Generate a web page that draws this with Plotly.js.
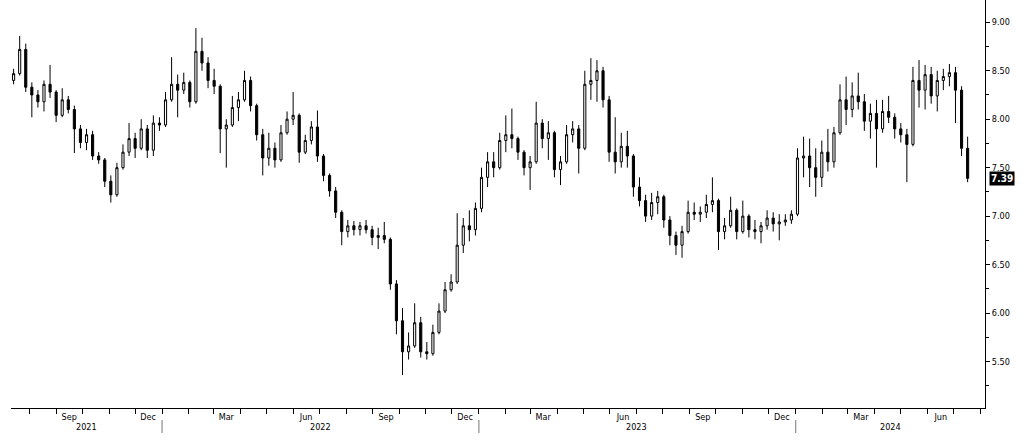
<!DOCTYPE html>
<html>
<head>
<meta charset="utf-8">
<script src="https://cdn.plot.ly/plotly-3.0.1.min.js"></script>
<style>
html,body{margin:0;padding:0;background:#fff;}
#chart{width:1026px;height:440px;}
</style>
</head>
<body>
<div id="chart"></div>
<script>
// Weekly candles (week midpoint dates)
const firstWeek = '2021-07-14';
const opens = [8.40,8.47,8.72,8.33,8.25,8.18,8.36,8.28,8.04,8.20,8.10,7.90,7.76,7.84,7.62,7.58,7.36,7.22,7.50,7.66,
7.80,7.70,7.90,7.68,7.96,7.94,8.20,8.36,8.30,8.38,8.18,8.70,8.58,8.40,8.34,7.90,7.94,8.12,8.20,8.40,
8.14,7.84,7.60,7.70,7.58,7.86,8.00,8.04,7.66,7.78,7.92,7.62,7.42,7.26,7.04,6.84,6.90,6.86,6.90,6.86,
6.78,6.80,6.76,6.30,5.92,5.60,5.66,5.90,5.60,5.58,5.80,6.02,6.24,6.32,6.70,6.90,6.86,7.08,7.40,7.56,
7.50,7.78,7.84,7.80,7.66,7.50,7.56,7.96,7.80,7.86,7.48,7.56,7.84,7.90,7.70,8.36,8.40,8.50,8.20,7.66,
7.56,7.72,7.62,7.30,7.16,7.00,7.14,7.20,6.96,6.80,6.70,6.84,7.04,7.02,7.04,7.12,7.16,6.84,6.90,7.06,
6.84,7.00,6.86,6.84,6.90,6.98,6.92,6.94,6.96,7.02,7.60,7.62,7.50,7.40,7.66,7.56,7.86,8.20,8.10,8.24,
8.18,7.98,8.06,7.90,8.08,8.02,7.90,7.84,7.74,8.40,8.30,8.46,8.24,8.40,8.44,8.48,8.30,7.70];
const highs = [8.52,8.86,8.78,8.38,8.30,8.40,8.56,8.30,8.32,8.24,8.14,7.94,7.90,7.88,7.66,7.60,7.42,7.55,7.74,7.96,
7.86,8.00,7.94,8.04,8.02,8.28,8.64,8.46,8.48,8.40,8.94,8.84,8.64,8.52,8.36,8.00,8.24,8.28,8.50,8.44,
8.16,7.90,7.86,7.76,7.94,8.08,8.28,8.06,7.84,7.98,8.09,7.64,7.44,7.30,7.06,6.96,6.95,6.94,6.96,6.90,
6.88,6.94,6.78,6.34,6.05,5.80,6.10,5.96,5.70,5.88,6.10,6.32,6.40,7.03,6.98,7.06,7.14,7.50,7.66,7.66,
7.86,8.04,8.11,7.82,7.68,7.62,8.18,8.00,7.98,7.88,7.62,7.94,7.98,7.94,8.50,8.63,8.61,8.54,8.24,8.02,
7.86,7.88,7.64,7.40,7.22,7.24,7.26,7.22,7.00,6.84,6.90,7.16,7.14,7.10,7.22,7.40,7.18,6.98,7.20,7.08,
7.16,7.02,6.96,6.94,7.06,7.04,7.02,7.02,7.06,7.70,7.82,7.80,7.70,7.78,7.90,7.92,8.36,8.44,8.38,8.48,
8.26,8.16,8.20,8.20,8.24,8.06,7.96,7.90,8.54,8.61,8.56,8.54,8.50,8.52,8.57,8.54,8.34,7.82];
const lows = [8.36,8.45,8.28,8.02,8.12,8.08,8.22,7.97,8.02,8.06,7.65,7.70,7.68,7.58,7.54,7.30,7.14,7.20,7.48,7.62,
7.60,7.68,7.60,7.62,7.88,7.92,8.18,8.02,8.26,8.12,8.16,8.50,8.32,8.26,7.65,7.50,7.92,7.98,8.18,8.08,
7.78,7.42,7.52,7.50,7.56,7.84,7.94,7.55,7.64,7.74,7.56,7.36,7.20,6.98,6.70,6.78,6.80,6.80,6.82,6.70,
6.66,6.72,6.24,5.78,5.36,5.52,5.64,5.54,5.52,5.56,5.78,6.00,6.22,6.30,6.62,6.74,6.80,7.04,7.30,7.40,
7.48,7.66,7.70,7.58,7.42,7.27,7.54,7.70,7.58,7.40,7.32,7.54,7.76,7.44,7.68,8.20,8.18,8.12,7.56,7.44,
7.50,7.50,7.20,7.10,6.94,6.96,7.02,6.88,6.70,6.60,6.57,6.82,6.96,6.94,6.98,7.04,6.65,6.76,6.88,6.76,
6.82,6.78,6.76,6.72,6.86,6.84,6.75,6.90,6.92,7.00,7.40,7.30,7.20,7.30,7.46,7.50,7.84,7.94,8.02,8.10,
7.88,7.80,7.50,7.86,7.96,7.80,7.76,7.35,7.72,8.12,8.10,8.16,8.08,8.30,8.34,7.96,7.62,7.35];
const closes = [8.47,8.72,8.33,8.25,8.18,8.36,8.28,8.04,8.20,8.10,7.90,7.76,7.84,7.62,7.58,7.36,7.22,7.50,7.66,7.80,
7.70,7.90,7.68,7.96,7.94,8.20,8.36,8.30,8.38,8.18,8.70,8.58,8.40,8.34,7.90,7.94,8.12,8.20,8.40,8.14,
7.84,7.60,7.70,7.58,7.86,8.00,8.04,7.66,7.78,7.92,7.62,7.42,7.26,7.04,6.84,6.90,6.86,6.90,6.86,6.78,
6.80,6.76,6.30,5.92,5.60,5.66,5.90,5.60,5.58,5.80,6.02,6.24,6.32,6.70,6.90,6.86,7.08,7.40,7.56,7.50,
7.78,7.84,7.80,7.66,7.50,7.56,7.96,7.80,7.86,7.48,7.56,7.84,7.90,7.70,8.36,8.40,8.50,8.20,7.66,7.56,
7.72,7.62,7.30,7.16,7.00,7.14,7.20,6.96,6.80,6.70,6.84,7.04,7.02,7.04,7.12,7.16,6.84,6.90,7.06,6.84,
7.00,6.86,6.84,6.90,6.98,6.92,6.94,6.96,7.02,7.60,7.62,7.50,7.40,7.66,7.56,7.86,8.20,8.10,8.24,8.18,
7.98,8.06,7.90,8.08,8.02,7.90,7.84,7.74,8.40,8.30,8.46,8.24,8.40,8.44,8.48,8.30,7.70,7.39];

const yTickVals = [5.5,6.0,6.5,7.0,7.5,8.0,8.5,9.0];
const monthLabelDates = ['2021-09-16','2021-12-16','2022-03-16','2022-06-16','2022-09-16','2022-12-16',
  '2023-03-16','2023-06-16','2023-09-16','2023-12-16','2024-03-16','2024-06-16'];
const monthLabels = ['Sep','Dec','Mar','Jun','Sep','Dec','Mar','Jun','Sep','Dec','Mar','Jun'];
const yearLabels = ['2021','2022','2023','2024'];
const yearStarts = ['2021-01-01','2022-01-01','2023-01-01','2024-01-01','2025-01-01'];
const xRange = ['2021-07-11','2024-08-06'];

// build weekly dates
const dates = [];
{
  const d0 = new Date(firstWeek + 'T00:00:00Z');
  for (let i = 0; i < closes.length; i++) {
    const d = new Date(d0.getTime() + i * 7 * 86400000);
    dates.push(d.toISOString().slice(0, 10));
  }
}

const trace = {
  type: 'candlestick',
  x: dates, open: opens, high: highs, low: lows, close: closes,
  increasing: {line: {color: '#000', width: 1}, fillcolor: '#fff'},
  decreasing: {line: {color: '#000', width: 1}, fillcolor: '#000'},
  whiskerwidth: 0,
  hoverinfo: 'skip'
};

const fontFam = 'Tahoma, "DejaVu Sans Condensed", "DejaVu Sans", sans-serif';
const toMs = s => new Date(s + 'T00:00:00Z').getTime();
const rs = toMs(xRange[0]), re = toMs(xRange[1]);

const annotations = [];
yearLabels.forEach((y, i) => {
  const a = Math.max(rs, toMs(yearStarts[i]));
  const b = Math.min(re, toMs(yearStarts[i + 1]));
  const mid = new Date((a + b) / 2).toISOString().slice(0, 10);
  annotations.push({x: mid, xref: 'x', y: 0, yref: 'paper', yanchor: 'middle', yshift: -19,
    text: y, showarrow: false, font: {family: fontFam, size: 9, color: '#000'}});
});
const last = closes[closes.length - 1];
annotations.push({x: 1, xref: 'paper', xanchor: 'left', xshift: 4, y: last, yref: 'y', yanchor: 'middle',
  text: '<b>' + last.toFixed(2) + '</b>', showarrow: false, bgcolor: '#000', borderpad: 1,
  font: {family: fontFam, size: 10, color: '#fff'}});

const shapes = [];
yearStarts.forEach(s => {
  const t = toMs(s);
  if (t > rs && t < re) {
    shapes.push({type: 'line', xref: 'x', yref: 'paper', x0: s, x1: s, y0: -0.0294, y1: -0.0613,
      line: {color: '#777', width: 1}});
  }
});

const layout = {
  width: 1026, height: 440,
  margin: {l: 11, r: 41, t: 0, b: 32, pad: 0},
  paper_bgcolor: '#fff', plot_bgcolor: '#fff',
  showlegend: false,
  boxgap: 0.5,
  font: {family: fontFam, size: 9, color: '#000'},
  xaxis: {
    type: 'date', range: xRange, rangeslider: {visible: false},
    showgrid: false, zeroline: false, showline: true, linecolor: '#000', linewidth: 1,
    tickmode: 'array', tickvals: monthLabelDates, ticktext: monthLabels, ticks: '',
    tickfont: {family: fontFam, size: 9, color: '#000'},
    minor: {ticks: 'outside', ticklen: 5, tickcolor: '#000', dtick: 'M1', tick0: '2021-01-01', showgrid: false},
    fixedrange: true
  },
  yaxis: {
    side: 'right', range: [5.02, 9.23],
    showgrid: false, zeroline: false, showline: true, linecolor: '#000', linewidth: 1,
    tickmode: 'array', tickvals: yTickVals, tickformat: '.2f',
    ticks: 'outside', ticklen: 4, tickcolor: '#000',
    minor: {ticks: 'outside', ticklen: 3, tickcolor: '#000', dtick: 0.25, tick0: 0, showgrid: false},
    tickfont: {family: fontFam, size: 9, color: '#000'},
    fixedrange: true
  },
  annotations: annotations,
  shapes: shapes
};

Plotly.newPlot('chart', [trace], layout, {displayModeBar: false, staticPlot: true});
</script>
</body>
</html>
